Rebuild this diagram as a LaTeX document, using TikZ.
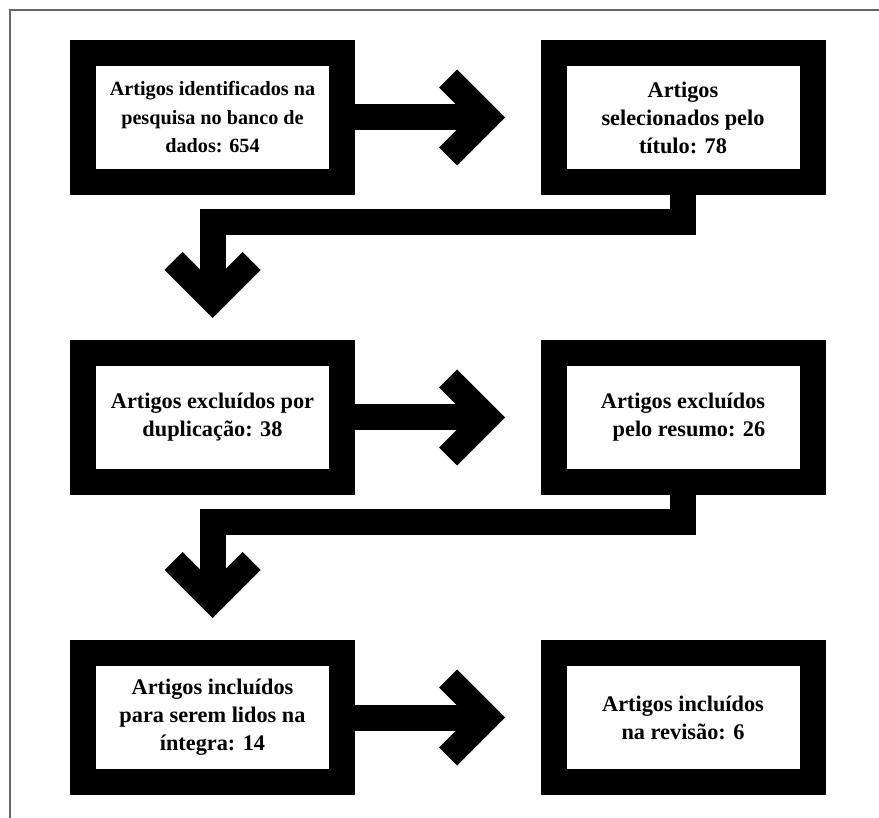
\documentclass[tikz,border=0pt]{standalone}
\usepackage{fontspec}
\setmainfont{Liberation Serif}
\usetikzlibrary{calc}
\tikzset{
  box/.style={draw=black, line width=26pt, minimum width=259pt, minimum height=129pt,
    inner sep=0pt, align=center, font=\bfseries\fontsize{22.3}{28}\selectfont},
  smalltext/.style={font=\bfseries\fontsize{20.2}{28.5}\selectfont},
  conn/.style={draw=black, line width=26pt, line cap=butt, line join=miter},
  framel/.style={draw=black!60, line width=1.5pt},
  arrowhd/.pic={\fill[black] (0,0) -- (-48,-48) -- (-66,-30) -- (-47,-11) -- (-47,11) -- (-66,30) -- (-48,48) -- cycle;}
}
\begin{document}
\begin{tikzpicture}[x=1pt,y=-1pt]
\useasboundingbox (0,0) rectangle (879,818);
\coordinate (fA) at (879,10);
\coordinate (fB) at (10,10);
\coordinate (fC) at (10,818);
\draw[framel] (fA) -- (fB) -- (fC);

\node[box,smalltext] (b1) at (212.5,117.5) {Artigos identificados na\\pesquisa no banco de\\dados: 654};
\node[box] (b2) at (683,117.5) {Artigos\\selecionados pelo\\título: 78};
\node[box] (b3) at (212.5,417.5) {Artigos excluídos por\\duplicação: 38};
\node[box] (b4) at (683,417.5) {Artigos excluídos\\\hspace*{12pt}pelo resumo: 26};
\node[box] (b5) at (212.5,717.5) {Artigos incluídos\\para serem lidos na\\íntegra: 14};
\node[box] (b6) at (683,717.5) {Artigos incluídos\\na revisão: 6};

% horizontal arrows
\coordinate (t1) at ($(b2.west)+(-35.5,0)$);
\draw[conn] (b1.east) -- ($(t1)+(-44,0)$);
\pic at (t1) {arrowhd};

\coordinate (t3) at ($(b4.west)+(-35.5,0)$);
\draw[conn] (b3.east) -- ($(t3)+(-44,0)$);
\pic at (t3) {arrowhd};

\coordinate (t5) at ($(b6.west)+(-35.5,0)$);
\draw[conn] (b5.east) -- ($(t5)+(-44,0)$);
\pic at (t5) {arrowhd};

% elbow arrows
\coordinate (t2) at ($(b3.north)+(0,-22)$);
\draw[conn] (b2.south) |- ($(b3.north)+(0,-118)$) -- ($(t2)+(0,-44)$);
\pic[rotate=-90] at (t2) {arrowhd};

\coordinate (t4) at ($(b5.north)+(0,-22)$);
\draw[conn] (b4.south) |- ($(b5.north)+(0,-118)$) -- ($(t4)+(0,-44)$);
\pic[rotate=-90] at (t4) {arrowhd};
\end{tikzpicture}
\end{document}
